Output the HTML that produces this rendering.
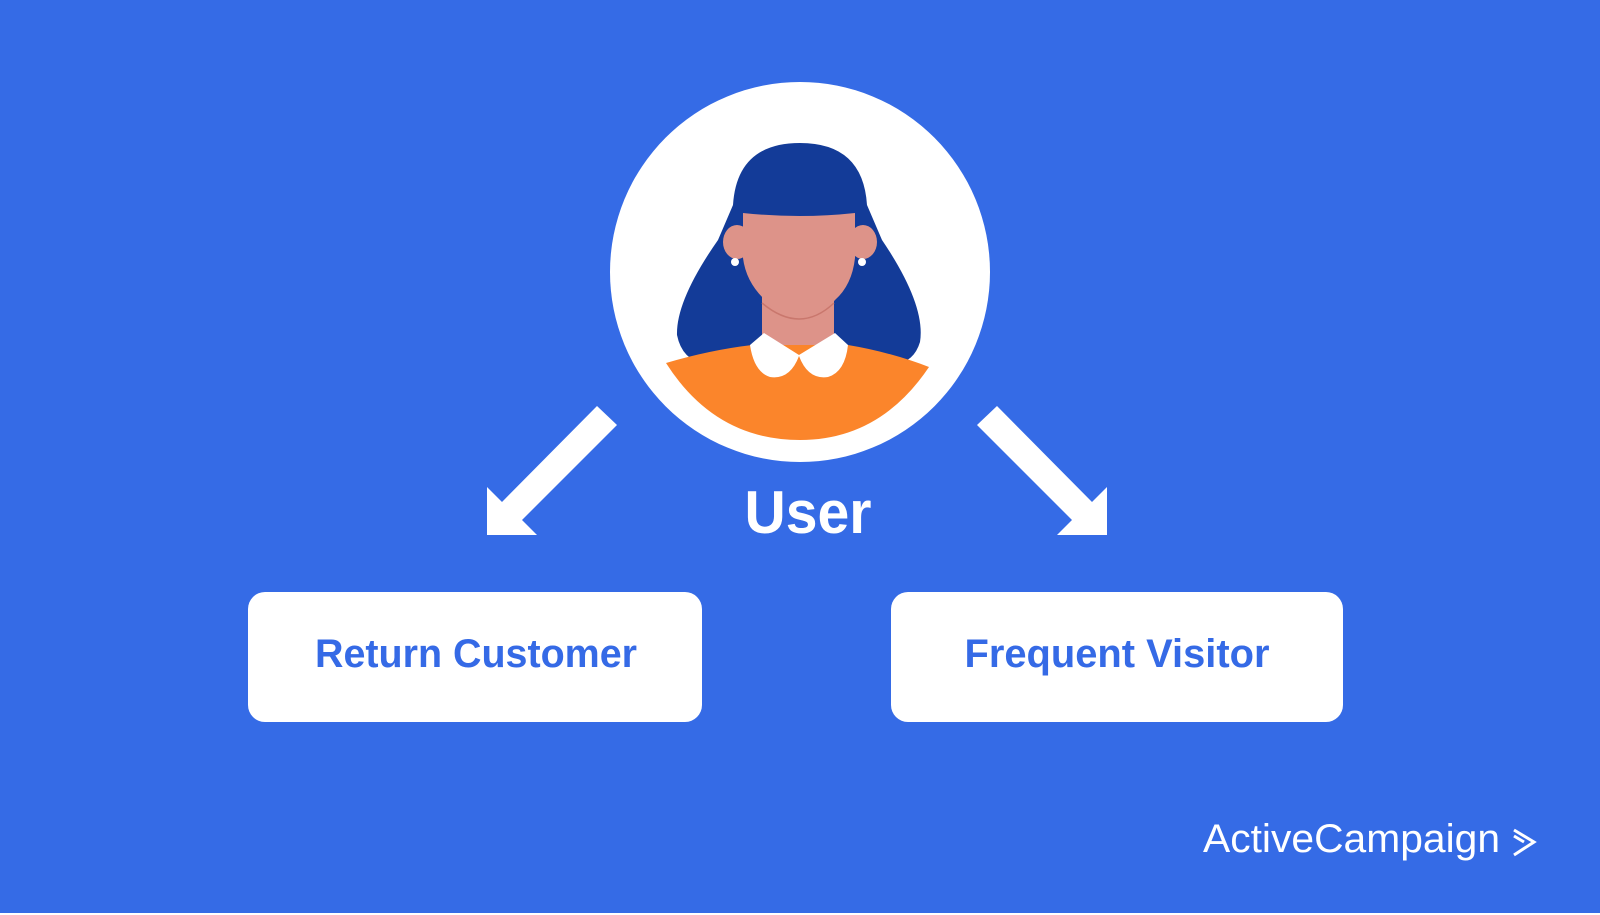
<!DOCTYPE html>
<html><head><meta charset="utf-8"><style>
html,body{margin:0;padding:0;background:#fff}
svg{display:block}
</style></head><body>
<svg width="1600" height="915" viewBox="0 0 1600 915" xmlns="http://www.w3.org/2000/svg">
<rect x="0" y="0" width="1600" height="913" fill="#356be6"/>
<circle cx="800" cy="272" r="190" fill="#fff"/>
<!-- hair -->
<path d="M733,205 Q737,143 800,143 Q863,143 867,205 L882,240 Q926,305 920,342 Q914,362 895,364 L705,364 Q682,360 677,335 Q676,300 718,240 Z" fill="#133b98"/>
<!-- ears -->
<ellipse cx="737" cy="242" rx="14" ry="17" fill="#dd9389"/>
<ellipse cx="863" cy="242" rx="14" ry="17" fill="#dd9389"/>
<circle cx="735" cy="262" r="4" fill="#fff"/>
<circle cx="862" cy="262" r="4" fill="#fff"/>
<!-- neck -->
<rect x="762" y="290" width="72" height="70" fill="#dd9389"/>
<!-- face -->
<path d="M743,213 Q800,219 855,213 L855,258 Q852,285 835,300 Q818,320 800,320 Q782,320 765,300 Q746,282 743,258 Z" fill="#dd9389"/>
<path d="M762,303 Q800,335 834,303" fill="none" stroke="#c9776d" stroke-width="1.5"/>
<!-- body -->
<path d="M666,363 Q710,350 752,345 L848,345 Q890,352 929,367 Q880,440 800,440 Q715,440 666,363 Z" fill="#fb852b"/>
<!-- collar -->
<path d="M764,333 L799,355 L835,333 L848,345 Q845,372 828,377 Q808,380 799,356 Q790,380 770,377 Q754,372 750,345 Z" fill="#fff"/>
<!-- arrows -->
<polygon points="597,406 617,425 522,520 537,535 487,535 487,487 502,502" fill="#fff"/>
<polygon points="997,406 977,425 1072,520 1057,535 1107,535 1107,487 1092,502" fill="#fff"/>
<text x="808" y="533" text-anchor="middle" font-family="Liberation Sans, sans-serif" font-weight="bold" font-size="60" fill="#fff" textLength="127" lengthAdjust="spacingAndGlyphs">User</text>
<rect x="248" y="592" width="454" height="130" rx="17" fill="#fff"/>
<rect x="891" y="592" width="452" height="130" rx="17" fill="#fff"/>
<text x="476" y="667" text-anchor="middle" font-family="Liberation Sans, sans-serif" font-weight="bold" font-size="40" fill="#356ae6" textLength="322" lengthAdjust="spacingAndGlyphs">Return Customer</text>
<text x="1117" y="667" text-anchor="middle" font-family="Liberation Sans, sans-serif" font-weight="bold" font-size="40" fill="#356ae6" textLength="305" lengthAdjust="spacingAndGlyphs">Frequent Visitor</text>
<text x="1203" y="852" font-family="Liberation Sans, sans-serif" font-size="40" fill="#fff" textLength="297" lengthAdjust="spacingAndGlyphs">ActiveCampaign</text>
<polyline points="1514,830 1534,842 1514,855" fill="none" stroke="#fff" stroke-width="3"/>
<line x1="1514" y1="836" x2="1524" y2="842" stroke="#fff" stroke-width="3"/>
</svg>
</body></html>
